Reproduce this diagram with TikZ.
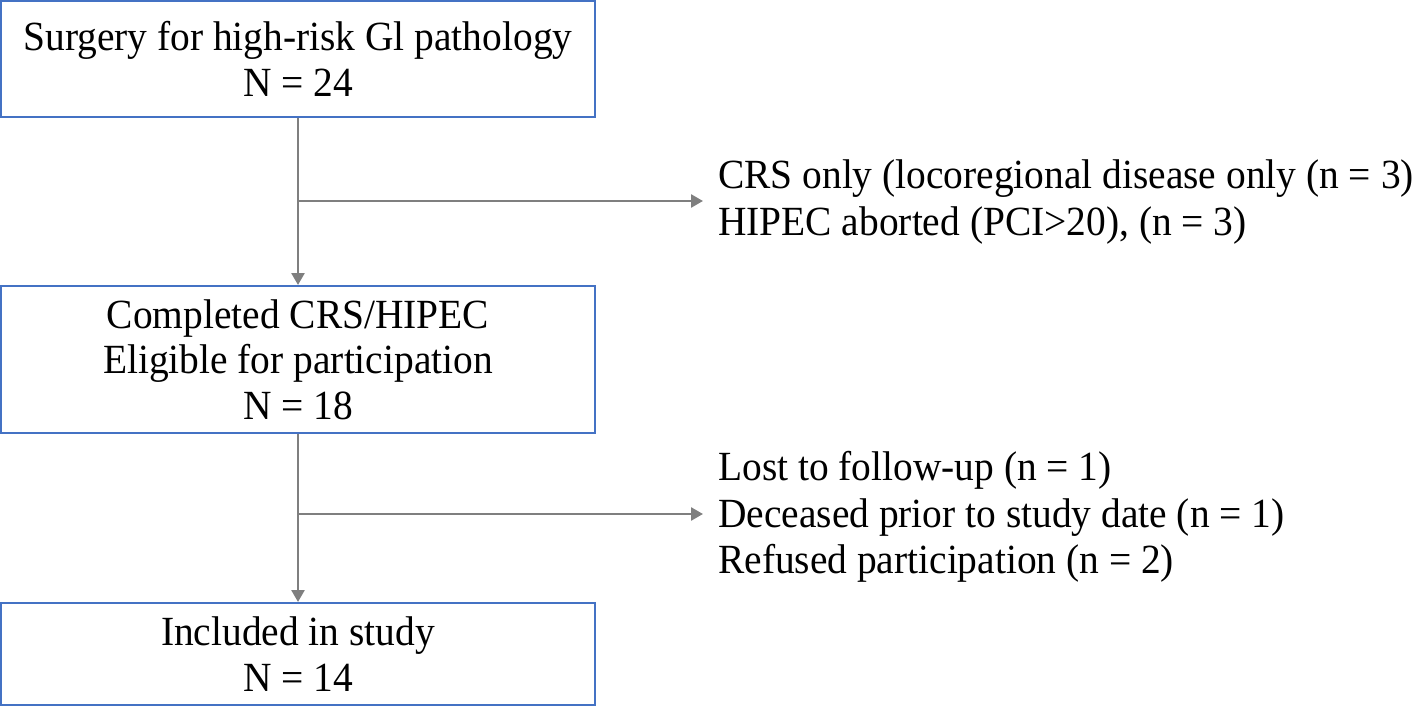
\documentclass[tikz,border=0pt]{standalone}
\usepackage{fontspec}
\setmainfont{Liberation Serif}[FakeStretch=0.95]
\usetikzlibrary{arrows.meta}
\definecolor{boxblue}{HTML}{4472C4}
\definecolor{linegray}{HTML}{7F7F7F}
\tikzset{
  flowbox/.style={draw=boxblue, line width=2pt, minimum width=594pt, inner sep=0pt, align=center, font=\fontsize{41.5}{45.5}\selectfont},
  sidetext/.style={anchor=west, align=left, inner sep=0pt, font=\fontsize{41.5}{46.5}\selectfont},
  conn/.style={draw=linegray, line width=2.6pt, -{Triangle[length=12pt,width=13pt]}},
}
\begin{document}
\begin{tikzpicture}[x=1pt,y=-1pt]
\useasboundingbox (0,0) rectangle (1414,706);
\node[flowbox, minimum height=116pt] (b1) at (298,59) {Surgery for high-risk Gl pathology\\N = 24};
\node[flowbox, minimum height=147pt] (b2) at (298,359.5) {Completed CRS/HIPEC\\Eligible for participation\\N = 18};
\node[flowbox, minimum height=102pt] (b3) at (298,654) {Included in study\\N = 14};
\node[sidetext] (s1) at (718,202) {CRS only (locoregional disease only (n = 3)\\HIPEC aborted (PCI>20), (n = 3)};
\node[sidetext] (s2) at (718,517) {Lost to follow-up (n = 1)\\Deceased prior to study date (n = 1)\\Refused participation (n = 2)};
\coordinate (j1) at (298,201);
\coordinate (j2) at (298,514);
\coordinate (e1) at (703,201);
\coordinate (e2) at (703,514);
\draw[conn] (b1.south) -- (b2.north);
\draw[conn] (b2.south) -- (b3.north);
\draw[conn] (j1) -- (e1);
\draw[conn] (j2) -- (e2);
\end{tikzpicture}
\end{document}
